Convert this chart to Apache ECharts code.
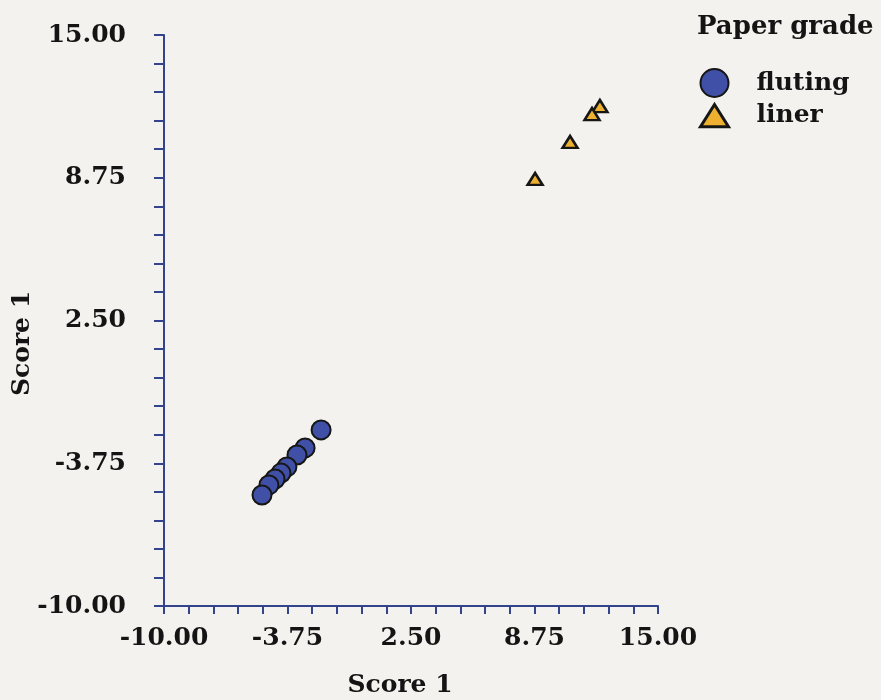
<!DOCTYPE html>
<html>
<head>
<meta charset="utf-8">
<script src="https://cdn.jsdelivr.net/npm/echarts@6/dist/echarts.min.js"></script>
<style>
html,body{margin:0;padding:0;background:#f3f2ef;}
#chart{width:881px;height:700px;}
</style>
</head>
<body>
<div id="chart"></div>
<script>
var legendTitle = 'Paper grade';
var xAxisName = 'Score 1';
var yAxisName = 'Score 1';
var axisMin = -10, axisMax = 15, minorStep = 1.25, labelStep = 6.25;

var flutingX = [-2.05, -2.86, -3.27, -3.78, -4.08, -4.38, -4.69, -5.04];
var flutingY = [-2.29, -3.08, -3.39, -3.91, -4.18, -4.44, -4.70, -5.14];
var linerX = [12.06, 11.66, 10.55, 8.78];
var linerY = [11.89, 11.54, 10.32, 8.70];

function pairs(xs, ys){ return xs.map(function(x,i){ return [x, ys[i]]; }); }

var FONT = '"DejaVu Serif", "Liberation Serif", serif';
var axisColor = '#34448c';
var textColor = '#141414';

function labelFmt(v){
  var k = (v - axisMin) / labelStep;
  if (Math.abs(k - Math.round(k)) < 1e-6) return v.toFixed(2);
  return '';
}

function makeAxis(isX){
  return {
    type: 'value',
    min: axisMin, max: axisMax, interval: minorStep,
    name: isX ? xAxisName : yAxisName,
    nameLocation: 'middle',
    nameGap: isX ? 67 : 129,
    nameMoveOverlap: false,
    nameTextStyle: {
      fontFamily: FONT, fontWeight: 'bold', fontSize: 25, color: textColor,
      padding: isX ? [0, 22, 0, 0] : [0, 46, 0, 0]
    },
    axisLine: { show: true, onZero: false, lineStyle: { color: axisColor, width: 2 } },
    axisTick: { show: true, inside: false, length: isX ? 8 : 10, lineStyle: { color: axisColor, width: 2 } },
    axisLabel: {
      show: true, formatter: labelFmt, margin: isX ? 20 : 38,
      fontFamily: FONT, fontWeight: 'bold', fontSize: 25, color: textColor,
      showMinLabel: true, showMaxLabel: true, hideOverlap: false
    },
    splitLine: { show: false }
  };
}

var chart = echarts.init(document.getElementById('chart'), null, {renderer: 'canvas'});
chart.setOption({
  backgroundColor: '#f3f2ef',
  animation: false,
  title: {
    text: legendTitle, left: 692, top: 9,
    textStyle: { fontFamily: FONT, fontWeight: 'bold', fontSize: 26, color: textColor }
  },
  legend: {
    orient: 'vertical', left: 694, top: 63,
    itemWidth: 28, itemHeight: 28, itemGap: 5,
    textStyle: { fontFamily: FONT, fontWeight: 'bold', fontSize: 25, color: textColor, padding: [0,0,0,23] },
    data: [
      { name: 'fluting', icon: 'circle' },
      { name: 'liner', icon: 'path://M14,6 L26,25 L2,25 Z', itemStyle: { borderWidth: 3 } }
    ]
  },
  grid: { left: 164, right: 223, top: 35, bottom: 94, containLabel: false, outerBoundsMode: 'none' },
  xAxis: makeAxis(true),
  yAxis: makeAxis(false),
  series: [
    {
      name: 'fluting', type: 'scatter', symbol: 'circle', symbolSize: 19,
      itemStyle: { color: '#3f50a6', borderColor: '#161616', borderWidth: 2, opacity: 1 },
      data: pairs(flutingX, flutingY)
    },
    {
      name: 'liner', type: 'scatter', symbol: 'triangle', symbolSize: [15, 12],
      itemStyle: { color: '#eeb030', borderColor: '#161616', borderWidth: 2.5, opacity: 1 },
      data: pairs(linerX, linerY)
    }
  ]
});
</script>
</body>
</html>
